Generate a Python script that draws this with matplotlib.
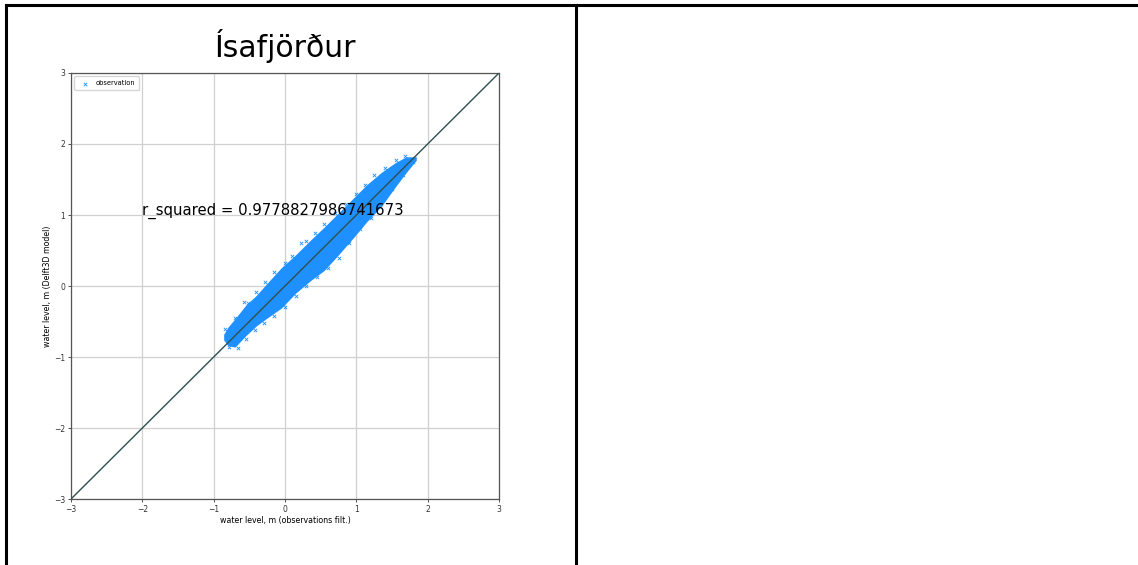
import numpy as np
import matplotlib
matplotlib.use("Agg")
import matplotlib.pyplot as plt
from matplotlib.lines import Line2D

# --- data ---
station = "Ísafjörður"
r_squared = 0.9778827986741673

# dense core of the scatter cloud (observation x, model lower / upper envelope)
band_obs = [-0.86, -0.80, -0.70, -0.55, -0.40, -0.25, -0.05, 0.15, 0.35,
            0.55, 0.75, 0.95, 1.15, 1.35, 1.55, 1.70, 1.84]
band_low = [-0.76, -0.84, -0.86, -0.70, -0.56, -0.45, -0.31, -0.10, 0.07,
            0.22, 0.44, 0.67, 0.91, 1.12, 1.40, 1.60, 1.77]
band_high = [-0.68, -0.58, -0.46, -0.27, -0.13, 0.04, 0.26, 0.44, 0.64,
             0.83, 1.03, 1.23, 1.43, 1.60, 1.74, 1.82, 1.82]

# scattered points on the ragged edges of the cloud
edge_obs = [-0.84, -0.70, -0.58, -0.52, -0.40, -0.28, -0.15, 0.00, 0.10, 0.22,
            0.30, 0.42, 0.55, 0.70, 0.85, 1.00, 1.12, 1.25, 1.40, 1.55, 1.68,
            -0.78, -0.66, -0.55, -0.42, -0.30, -0.15, 0.00, 0.15, 0.30, 0.45,
            0.60, 0.75, 0.90, 1.05, 1.20, 1.35, 1.50, 1.65, 1.80]
edge_mod = [-0.60, -0.45, -0.22, -0.24, -0.08, 0.06, 0.20, 0.33, 0.42, 0.60,
            0.64, 0.74, 0.88, 1.03, 1.16, 1.30, 1.42, 1.56, 1.66, 1.78, 1.83,
            -0.86, -0.88, -0.75, -0.62, -0.52, -0.42, -0.30, -0.14, 0.00, 0.12,
            0.26, 0.40, 0.60, 0.80, 0.96, 1.16, 1.36, 1.56, 1.74]

one_to_one = [-3, 3]
ticks = [-3, -2, -1, 0, 1, 2, 3]

blue = "#1e90ff"

fig = plt.figure(figsize=(11.38, 5.65), dpi=100)
ax = fig.add_axes([0.0624, 0.1168, 0.3761, 0.754])

ax.fill_between(band_obs, band_low, band_high, color=blue, linewidth=0, zorder=2)
ax.scatter(edge_obs, edge_mod, marker="x", s=6, linewidths=0.6, color=blue,
           label="observation", zorder=2)
ax.plot(one_to_one, one_to_one, color="#2f4f4f", linewidth=1, zorder=3)

ax.text(-2, 1, f"r_squared = {r_squared}", fontsize=10.7, zorder=4)

ax.set_xlim(-3, 3)
ax.set_ylim(-3, 3)
ax.set_xticks(ticks)
ax.set_yticks(ticks)
ax.grid(True, color="#d0d0d0", linewidth=0.9, zorder=0)
ax.set_axisbelow(True)
ax.tick_params(labelsize=5.5, length=2.2, width=0.6, pad=2, colors="#333333")
for sp in ax.spines.values():
    sp.set_color("#555555")
    sp.set_linewidth(0.9)

ax.set_xlabel("water level, m (observations filt.)", fontsize=5.7, labelpad=1.5)
ax.set_ylabel("water level, m (Delft3D model)", fontsize=5.7, labelpad=1.5)
ax.set_title(station, fontsize=21.5, pad=11.5)

ax.legend(loc="upper left", fontsize=4.8, markerscale=1.0, handletextpad=0.6,
          borderpad=0.6, framealpha=0.8)

# table-like borders around the cells
lw = 2.2
fig.add_artist(Line2D([0.0057, 1.0], [0.9903, 0.9903], color="black", linewidth=lw,
                      transform=fig.transFigure))
fig.add_artist(Line2D([0.0057, 0.0057], [0.0, 0.9903], color="black", linewidth=lw,
                      transform=fig.transFigure))
fig.add_artist(Line2D([0.5062, 0.5062], [0.0, 0.9903], color="black", linewidth=lw,
                      transform=fig.transFigure))

fig.savefig("out.png", dpi=100)
